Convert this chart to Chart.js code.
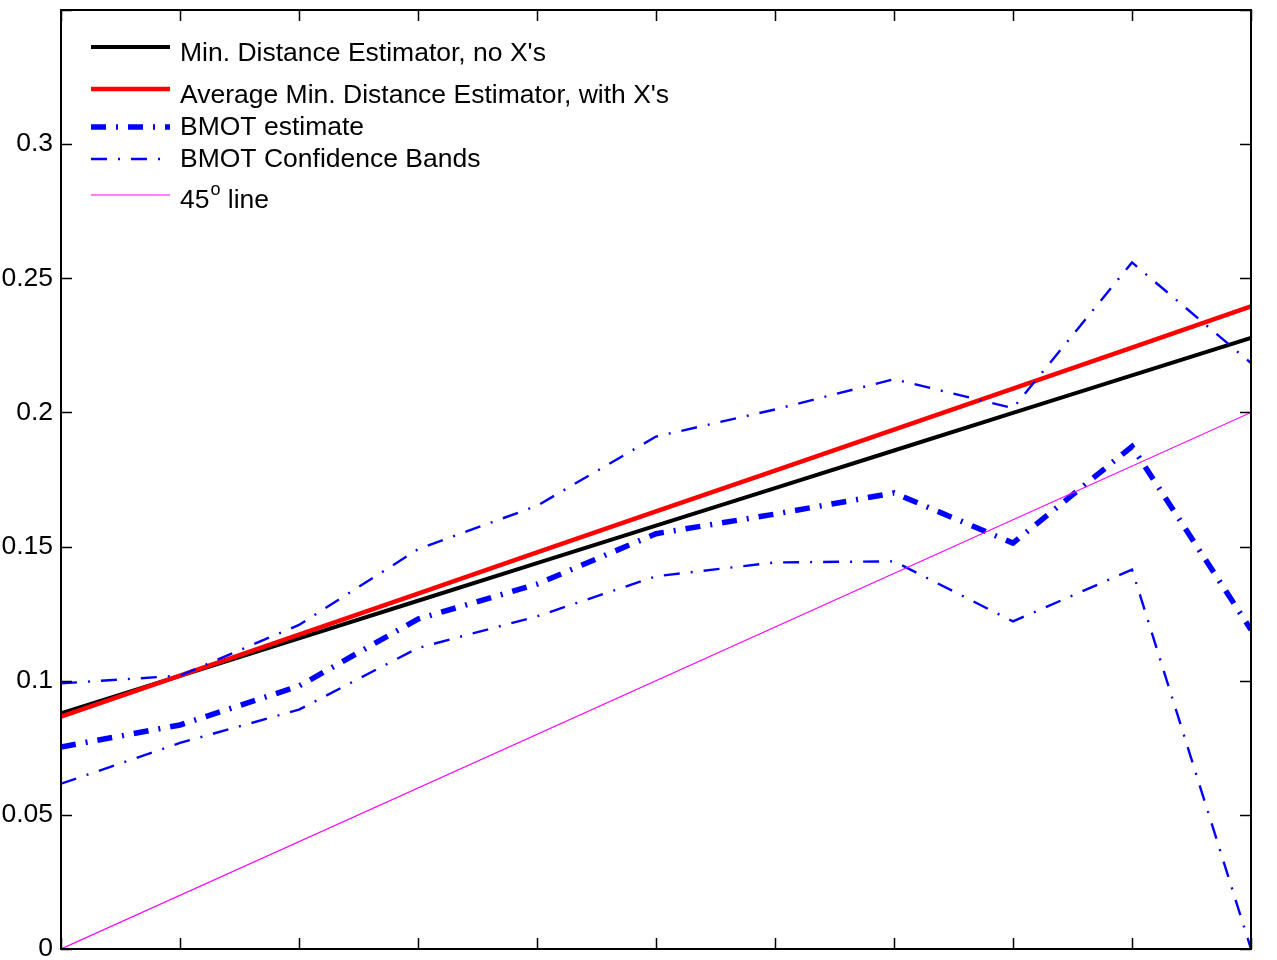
<!DOCTYPE html>
<html>
<head>
<meta charset="utf-8">
<script src="https://cdn.jsdelivr.net/npm/chart.js@4"></script>
<style>
  body { margin: 0; background: #fff; }
  #wrap { width: 1277px; height: 960px; position: relative; }
</style>
</head>
<body>
<div id="wrap"><canvas id="chart"></canvas></div>
<script>
// valeurs
const xVals = [0, 0.02, 0.04, 0.06, 0.08, 0.10, 0.12, 0.14, 0.16, 0.18, 0.20];
const minDist = [0.0878, 0.1018, 0.1158, 0.1298, 0.1438, 0.1578, 0.1718, 0.1858, 0.1998, 0.2138, 0.2278];
const avgMinDist = [0.0866, 0.1019, 0.1172, 0.1325, 0.1478, 0.1631, 0.1783, 0.1936, 0.2089, 0.2242, 0.2395];
const bmotEst = [0.0753, 0.0835, 0.0980, 0.1230, 0.1360, 0.1548, 0.1621, 0.1700, 0.1513, 0.1873, 0.1190];
const bmotUpper = [0.0990, 0.1019, 0.1208, 0.1490, 0.1652, 0.1910, 0.2011, 0.2124, 0.2016, 0.2559, 0.2184];
const bmotLower = [0.0616, 0.0768, 0.0892, 0.1122, 0.1240, 0.1389, 0.1441, 0.1445, 0.1221, 0.1414, 0.0];
const diagX = [0, 0.2];
const diagY = [0, 0.2];

const FONT = "'Liberation Sans', Arial, Helvetica, sans-serif";
const FSIZE = 26.5;

function pts(xs, ys) { return xs.map((x, i) => ({ x, y: ys[i] })); }

// cadre + graduations vers l'intérieur + légende dans le coin
const framePlugin = {
  id: 'frame',
  afterDraw(chart) {
    const { ctx, chartArea: a, scales } = chart;
    ctx.save();
    ctx.strokeStyle = '#000';
    ctx.lineWidth = 1.5;
    ctx.beginPath();
    for (const t of scales.x.ticks) {
      const px = Math.round(scales.x.getPixelForValue(t.value)) + 0.5;
      ctx.moveTo(px, a.bottom); ctx.lineTo(px, a.bottom - 11);
      ctx.moveTo(px, a.top); ctx.lineTo(px, a.top + 11);
    }
    for (const t of scales.y.ticks) {
      const py = Math.round(scales.y.getPixelForValue(t.value)) + 0.5;
      ctx.moveTo(a.left, py); ctx.lineTo(a.left + 11, py);
      ctx.moveTo(a.right, py); ctx.lineTo(a.right - 11, py);
    }
    ctx.stroke();
    ctx.lineWidth = 2;
    ctx.strokeRect(a.left, a.top, a.right - a.left, a.bottom - a.top);

    // légende
    const rows = [
      { ds: 0, lineY: 37, textY: 44, text: "Min. Distance Estimator, no X's" },
      { ds: 1, lineY: 79, textY: 86, text: "Average Min. Distance Estimator, with X's" },
      { ds: 2, lineY: 117, textY: 118, text: 'BMOT estimate' },
      { ds: 3, lineY: 149, textY: 150, text: 'BMOT Confidence Bands' },
      { ds: 5, lineY: 185, textY: 191, text: '45', sup: 'o', rest: ' line' }
    ];
    const x0 = a.left + 30, x1 = a.left + 109, tx = a.left + 119;
    ctx.textBaseline = 'middle';
    for (const r of rows) {
      const ds = chart.data.datasets[r.ds];
      const y = a.top + r.lineY;
      ctx.strokeStyle = ds.borderColor;
      ctx.lineWidth = ds.borderWidth;
      ctx.setLineDash(ds.borderDash || []);
      ctx.beginPath();
      ctx.moveTo(x0, y); ctx.lineTo(x1, y);
      ctx.stroke();
      ctx.setLineDash([]);
      ctx.fillStyle = '#000';
      ctx.font = FSIZE + 'px ' + FONT;
      const ty = a.top + r.textY;
      ctx.fillText(r.text, tx, ty);
      if (r.sup) {
        const w = ctx.measureText(r.text).width;
        ctx.font = '18px ' + FONT;
        ctx.fillText(r.sup, tx + w + 1, ty - 11);
        const w2 = ctx.measureText(r.sup).width;
        ctx.font = FSIZE + 'px ' + FONT;
        ctx.fillText(r.rest, tx + w + w2 + 1, ty);
      }
    }
    ctx.restore();
  }
};

new Chart(document.getElementById('chart').getContext('2d'), {
  type: 'line',
  data: {
    datasets: [
      { label: "Min. Distance Estimator, no X's", data: pts(xVals, minDist), borderColor: '#000000', borderWidth: 4, order: 6 },
      { label: "Average Min. Distance Estimator, with X's", data: pts(xVals, avgMinDist), borderColor: '#ff0000', borderWidth: 4.5, order: 5 },
      { label: 'BMOT estimate', data: pts(xVals, bmotEst), borderColor: '#0000ff', borderWidth: 5.5, borderDash: [15, 10, 2, 10], order: 4 },
      { label: 'BMOT Confidence Bands', data: pts(xVals, bmotUpper), borderColor: '#0000ff', borderWidth: 2.4, borderDash: [16, 11, 2, 11], order: 3 },
      { label: 'BMOT Confidence Bands (low)', data: pts(xVals, bmotLower), borderColor: '#0000ff', borderWidth: 2.4, borderDash: [16, 11, 2, 11], order: 2 },
      { label: '45o line', data: pts(diagX, diagY), borderColor: '#ff00ff', borderWidth: 1.2, order: 1 }
    ].map(d => Object.assign({ fill: false, tension: 0, pointRadius: 0, backgroundColor: 'transparent' }, d))
  },
  options: {
    responsive: true,
    maintainAspectRatio: false,
    animation: false,
    layout: { padding: { top: 10, right: 26, left: 0, bottom: 0 } },
    scales: {
      x: {
        type: 'linear', min: 0, max: 0.2,
        ticks: { display: false, stepSize: 0.02 },
        grid: { display: false, drawTicks: false },
        border: { display: false },
        afterFit: (s) => { s.height = 11; s.paddingLeft = 0; s.paddingRight = 0; }
      },
      y: {
        min: 0, max: 0.35,
        ticks: {
          stepSize: 0.05, padding: 8, color: '#000',
          font: { family: FONT, size: FSIZE },
          callback: (v) => v > 0.34 ? '' : String(Number(v.toFixed(2)))
        },
        grid: { display: false, drawTicks: false },
        border: { display: false },
        afterFit: (s) => { s.width = 61; s.paddingTop = 0; s.paddingBottom = 0; }
      }
    },
    plugins: { legend: { display: false }, tooltip: { enabled: false } }
  },
  plugins: [framePlugin]
});
</script>
</body>
</html>
